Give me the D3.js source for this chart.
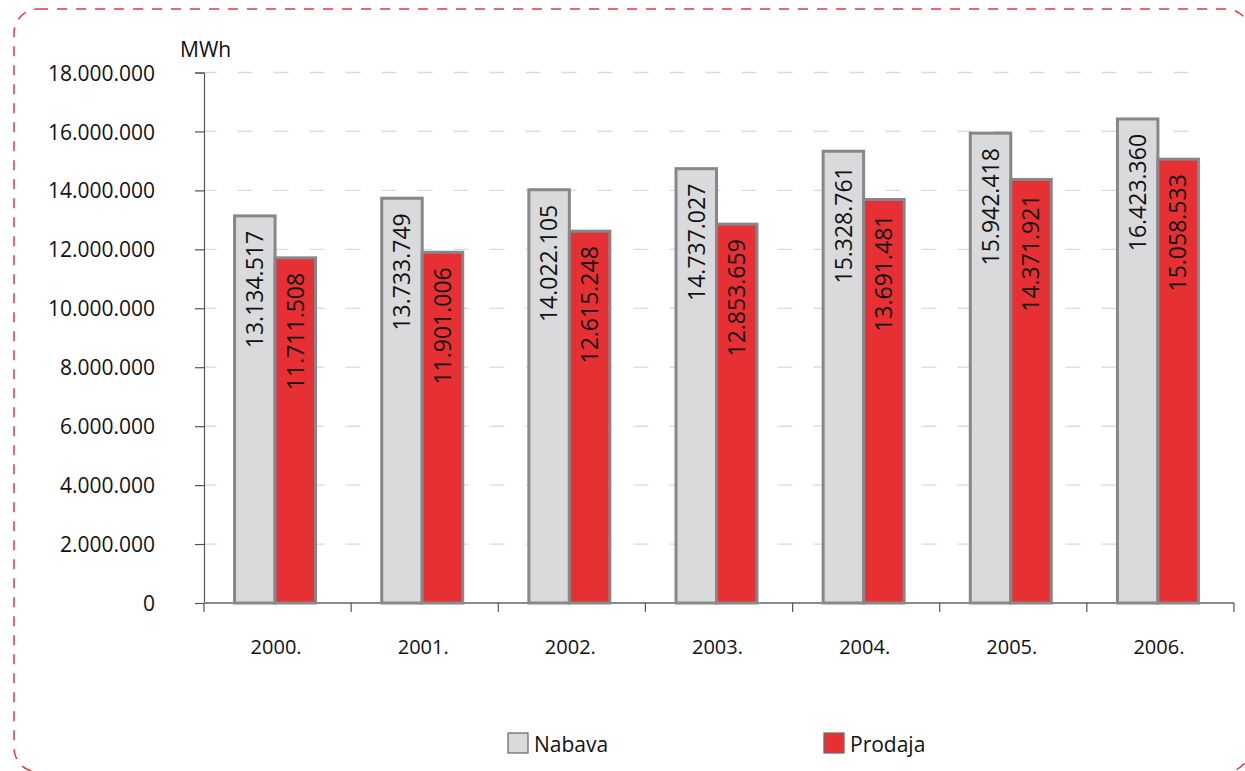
<!DOCTYPE html>
<html>
<head>
<meta charset="utf-8">
<script src="https://cdn.jsdelivr.net/npm/d3@7"></script>
<style>
  html, body { margin: 0; padding: 0; background: #fff; }
  svg { display: block; font-family: "Open Sans", sans-serif; }
</style>
</head>
<body>
<svg id="chart" width="1245" height="771"></svg>
<script>
const categories = ["2000.", "2001.", "2002.", "2003.", "2004.", "2005.", "2006."];
const seriesNames = ["Nabava", "Prodaja"];
const nabava = [13134517, 13733749, 14022105, 14737027, 15328761, 15942418, 16423360];
const prodaja = [11711508, 11901006, 12615248, 12853659, 13691481, 14371921, 15058533];
const yTicks = [0, 2000000, 4000000, 6000000, 8000000, 10000000, 12000000, 14000000, 16000000, 18000000];
const unitLabel = "MWh";

(function () {
const colors = { Nabava: "#d9dadc", Prodaja: "#e63033" };
const strokeCol = "#87868a";

const locale = d3.formatLocale({ decimal: ",", thousands: ".", grouping: [3], currency: ["", ""] });
const fmt = locale.format(",d");

const svg = d3.select("#chart");

// Outer dashed rounded frame
svg.append("rect")
  .attr("x", 14).attr("y", 9).attr("width", 1236).attr("height", 763)
  .attr("rx", 24).attr("ry", 24)
  .attr("fill", "none").attr("stroke", "#e8363d").attr("stroke-width", 1.5)
  .attr("stroke-dasharray", "10,9");

const pLeft = 204, pRight = 1234, pTop = 72.5, pBottom = 603;
const x = d3.scaleBand().domain(categories).range([pLeft, pRight]).paddingInner(0).paddingOuter(0);
const y = d3.scaleLinear().domain([0, 18000000]).range([pBottom, pTop]);

// Gridlines
svg.append("g").selectAll("line").data(yTicks.filter(d => d > 0)).join("line")
  .attr("x1", pLeft).attr("x2", 1200)
  .attr("y1", d => y(d)).attr("y2", d => y(d))
  .attr("stroke", "#d9d9d9").attr("stroke-width", 1.3)
  .attr("stroke-dasharray", "15,21").attr("stroke-dashoffset", 2.5);

// Y axis
const yAxis = d3.axisLeft(y).tickValues(yTicks).tickFormat(fmt).tickSize(9).tickPadding(40);
const gy = svg.append("g").attr("transform", `translate(${pLeft},0)`).call(yAxis);
gy.select(".domain").attr("stroke", "#555").attr("stroke-width", 1.2);
gy.selectAll(".tick line").attr("stroke", "#555").attr("stroke-width", 1.2);
gy.selectAll(".tick text").attr("font-size", 21).attr("fill", "#111")
  .attr("font-family", "Open Sans, sans-serif").attr("dy", "0.36em");

// Unit label
svg.append("text").attr("x", 180).attr("y", 57).attr("font-size", 21).attr("fill", "#111").text(unitLabel);

// Bars
const halfW = 40.5;
const shift = -2.5;
const groups = svg.append("g").selectAll("g").data(categories).join("g")
  .attr("transform", d => `translate(${x(d) + x.bandwidth() / 2 + shift},0)`);

groups.append("rect")
  .attr("x", -halfW).attr("width", halfW)
  .attr("y", (d, i) => y(nabava[i])).attr("height", (d, i) => pBottom - y(nabava[i]))
  .attr("fill", colors.Nabava).attr("stroke", strokeCol).attr("stroke-width", 3);

groups.append("rect")
  .attr("x", 0).attr("width", halfW)
  .attr("y", (d, i) => y(prodaja[i])).attr("height", (d, i) => pBottom - y(prodaja[i]))
  .attr("fill", colors.Prodaja).attr("stroke", strokeCol).attr("stroke-width", 3);

// Value labels (rotated)
const lblSize = 23;
groups.append("text")
  .attr("transform", (d, i) => `translate(${-halfW / 2 + 0.36 * lblSize},${y(nabava[i]) + 15}) rotate(-90)`)
  .attr("text-anchor", "end").attr("font-size", lblSize).attr("fill", "#111")
  .text((d, i) => fmt(nabava[i]));
groups.append("text")
  .attr("transform", (d, i) => `translate(${halfW / 2 + 0.36 * lblSize},${y(prodaja[i]) + 15}) rotate(-90)`)
  .attr("text-anchor", "end").attr("font-size", lblSize).attr("fill", "#111")
  .text((d, i) => fmt(prodaja[i]));

// X axis
const xAxis = d3.axisBottom(x).tickSize(0).tickPadding(0);
const gx = svg.append("g").attr("transform", `translate(0,${pBottom})`).call(xAxis);
gx.select(".domain").remove();
gx.selectAll(".tick text").attr("font-size", 20).attr("fill", "#111")
  .attr("font-family", "Open Sans, sans-serif").attr("y", 51).attr("dy", 0)
  .attr("dx", -1.5);
svg.append("line").attr("x1", pLeft).attr("x2", pRight).attr("y1", pBottom).attr("y2", pBottom)
  .attr("stroke", "#8a8a8a").attr("stroke-width", 2);
// category boundary ticks
const boundaries = categories.map(c => x(c)).concat([pRight]);
svg.append("g").selectAll("line").data(boundaries).join("line")
  .attr("x1", d => d).attr("x2", d => d).attr("y1", pBottom).attr("y2", pBottom + 9)
  .attr("stroke", "#555").attr("stroke-width", 1.2);

// Legend
const legendPos = [508, 824];
const lg = svg.append("g").selectAll("g").data(seriesNames).join("g")
  .attr("transform", (d, i) => `translate(${legendPos[i]},733)`);
lg.append("rect").attr("width", 20).attr("height", 20)
  .attr("fill", d => colors[d]).attr("stroke", "#6d6d70").attr("stroke-width", 1.3);
lg.append("text").attr("x", 26).attr("y", 19).attr("font-size", 21).attr("fill", "#111").text(d => d);
})();
</script>
</body>
</html>
